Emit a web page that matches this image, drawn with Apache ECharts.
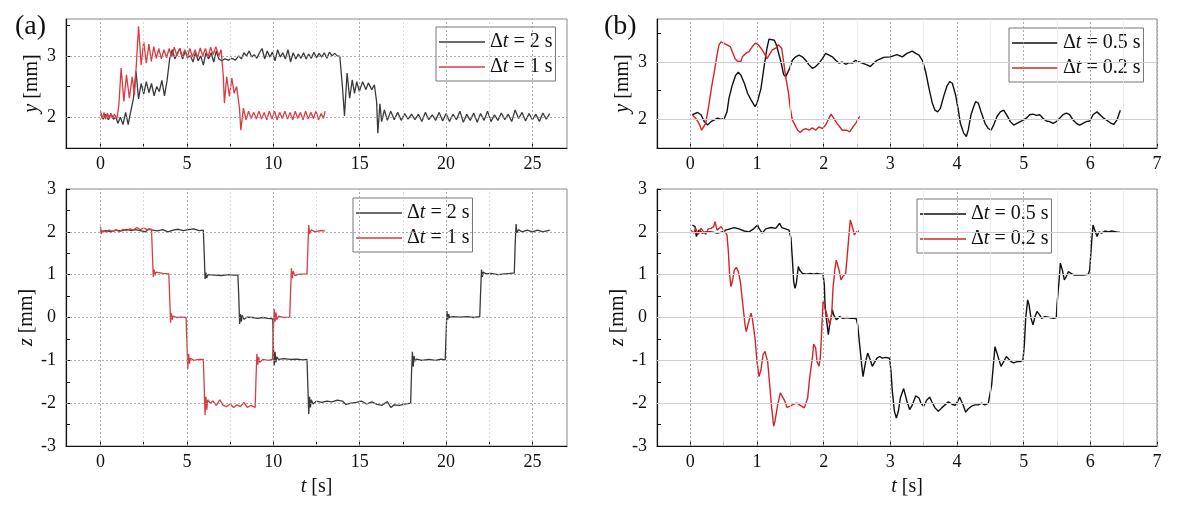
<!DOCTYPE html>
<html><head><meta charset="utf-8">
<script src="https://cdn.jsdelivr.net/npm/echarts@6/dist/echarts.min.js"></script>
<style>html,body{margin:0;padding:0;background:#fff}#c{width:1178px;height:513px}</style>
</head><body><div id="c"></div>
<script>
const FONT = 'Liberation Serif';

// legend names
const namesA = ['Δt = 2 s', 'Δt = 1 s'];
const namesB = ['Δt = 0.5 s', 'Δt = 0.2 s'];

// tick values
const aXMajor = [0, 5, 10, 15, 20, 25];
const aXMinor = [2.5, 7.5, 12.5, 17.5, 22.5];
const bXMajor = [0, 1, 2, 3, 4, 5, 6, 7];
const bXMinor = [0.5, 1.5, 2.5, 3.5, 4.5, 5.5, 6.5];
const yTopMajor = [2, 3];
const yTopMinor = [2.5, 3.5];
const zMajor = [-3, -2, -1, 0, 1, 2, 3];
const zMinor = [-2.5, -1.5, -0.5, 0.5, 1.5, 2.5];

// (a) top : y [mm], dt = 2 s
const yA2 = [[0,2.05],[0.15,1.97],[0.3,2.05],[0.45,1.96],[0.6,2.06],[0.75,1.97],[0.9,2.0],[1.0,1.9],[1.15,2.0],[1.3,1.88],[1.45,2.08],[1.6,1.88],[1.75,2.1],[1.9,2.3],[2.05,2.75],[2.2,2.3],[2.35,2.55],[2.5,2.38],[2.65,2.58],[2.8,2.4],[2.95,2.55],[3.1,2.35],[3.25,2.5],[3.4,2.42],[3.55,2.6],[3.7,2.35],[3.85,2.6],[4.0,2.95],[4.15,3.1],[4.3,2.95],[4.45,3.05],[4.6,3.12],[4.75,2.95],[4.9,3.08],[5.05,2.98],[5.2,3.0],[5.35,2.9],[5.5,3.05],[5.65,2.92],[5.8,3.0],[5.95,2.85],[6.1,3.05],[6.25,2.95],[6.4,3.05],[6.55,2.9],[6.7,3.08],[6.85,2.95],[7.0,2.92],[7.2,2.95],[7.4,2.93],[7.6,2.96],[7.8,2.93],[8.0,3.0],[8.15,2.95],[8.3,3.05],[8.45,3.0],[8.6,3.08],[8.75,2.98],[8.9,3.02],[9.05,2.96],[9.2,3.05],[9.35,3.12],[9.5,2.95],[9.65,3.08],[9.8,2.98],[9.95,3.06],[10.1,2.92],[10.25,3.1],[10.4,2.98],[10.55,3.05],[10.7,2.95],[10.85,3.1],[11.0,2.9],[11.15,3.05],[11.3,2.95],[11.45,3.03],[11.6,2.96],[11.75,3.05],[11.9,2.95],[12.05,3.03],[12.2,2.96],[12.35,3.06],[12.5,2.97],[12.65,3.04],[12.8,2.98],[12.95,3.05],[13.1,2.96],[13.25,3.06],[13.4,3.0],[13.55,3.04],[13.7,3.0],[13.85,2.99],[14.0,2.5],[14.12,2.02],[14.27,2.72],[14.42,2.31],[14.57,2.61],[14.7,2.39],[14.83,2.58],[14.98,2.42],[15.17,2.58],[15.36,2.45],[15.5,2.56],[15.7,2.45],[15.85,2.53],[15.98,2.25],[16.05,1.74],[16.17,2.22],[16.27,1.93],[16.43,2.12],[16.6,1.95],[16.8,2.1],[17.0,1.96],[17.2,2.08],[17.4,1.95],[17.6,2.06],[17.8,1.97],[18.0,2.05],[18.2,1.96],[18.4,2.05],[18.6,1.93],[18.8,2.08],[19.0,1.96],[19.2,2.04],[19.4,1.95],[19.6,2.08],[19.8,1.94],[20.0,2.06],[20.2,1.93],[20.4,2.05],[20.6,1.96],[20.8,2.1],[21.0,1.92],[21.2,2.05],[21.4,1.95],[21.6,2.07],[21.8,1.92],[22.0,2.06],[22.2,1.95],[22.4,2.1],[22.6,1.93],[22.8,2.04],[23.0,1.95],[23.2,2.07],[23.4,1.96],[23.6,2.05],[23.8,1.93],[24.0,2.12],[24.2,1.98],[24.4,2.08],[24.6,1.94],[24.8,2.06],[25.0,1.96],[25.2,2.05],[25.4,1.93],[25.6,2.07],[25.8,1.97],[26.0,2.06]];
// (a) top : y [mm], dt = 1 s
const yA1 = [[0,2.1],[0.1,1.98],[0.2,2.08],[0.3,1.97],[0.4,2.07],[0.5,1.97],[0.6,2.06],[0.7,1.98],[0.8,2.05],[0.95,1.98],[1.06,2.2],[1.19,2.8],[1.35,2.26],[1.5,2.69],[1.67,2.31],[1.83,2.66],[1.96,2.36],[2.08,2.9],[2.2,3.48],[2.35,2.85],[2.5,3.23],[2.65,2.88],[2.8,3.19],[2.94,2.91],[3.08,3.15],[3.23,2.96],[3.37,3.12],[3.52,2.95],[3.67,3.1],[3.82,2.97],[3.97,3.12],[4.12,2.98],[4.27,3.14],[4.42,3.0],[4.57,3.12],[4.72,2.98],[4.87,3.1],[5.02,2.97],[5.17,3.12],[5.32,2.98],[5.47,3.1],[5.62,2.97],[5.77,3.13],[5.92,3.0],[6.07,3.12],[6.22,2.98],[6.37,3.14],[6.52,3.02],[6.67,3.15],[6.85,3.0],[6.98,3.1],[7.1,2.69],[7.17,2.23],[7.3,2.66],[7.46,2.34],[7.6,2.64],[7.73,2.39],[7.88,2.5],[8.04,2.15],[8.12,1.79],[8.27,2.15],[8.42,1.96],[8.57,2.1],[8.72,1.98],[8.87,2.08],[9.02,1.97],[9.17,2.1],[9.32,1.97],[9.47,2.08],[9.62,1.96],[9.77,2.1],[9.92,1.97],[10.07,2.1],[10.22,1.96],[10.37,2.08],[10.52,1.98],[10.67,2.1],[10.82,1.97],[10.97,2.08],[11.12,1.96],[11.27,2.1],[11.42,1.98],[11.57,2.08],[11.72,1.96],[11.87,2.1],[12.02,1.97],[12.17,2.08],[12.32,1.98],[12.47,2.1],[12.62,1.96],[12.77,2.06],[12.9,1.98],[13.0,2.1]];

// (a) bottom : z [mm], dt = 2 s
const zA2 = [[0,2.05],[0.05,2.0],[0.3,2.03],[0.6,2.0],[0.9,2.04],[1.2,2.02],[1.5,2.06],[1.8,2.03],[2.0,2.05],[2.3,2.03],[2.6,2.0],[2.8,2.07],[3.0,2.04],[3.3,2.02],[3.6,2.05],[3.9,2.0],[4.2,2.04],[4.5,2.06],[4.8,2.03],[5.1,2.05],[5.4,2.07],[5.7,2.03],[5.95,2.04],[6.0,1.5],[6.05,0.9],[6.1,1.05],[6.15,0.92],[6.2,1.0],[6.3,0.96],[6.6,0.99],[7.0,0.98],[7.4,1.0],[7.7,0.99],[7.95,0.99],[8.0,0.5],[8.05,-0.15],[8.1,0.08],[8.15,-0.1],[8.2,0.05],[8.3,-0.04],[8.5,0.01],[8.8,0.0],[9.1,-0.02],[9.4,0.0],[9.7,-0.02],[9.97,-0.03],[10.0,-0.6],[10.05,-1.12],[10.1,-0.8],[10.15,-1.05],[10.2,-0.92],[10.3,-0.98],[10.6,-0.96],[11.0,-0.98],[11.4,-0.97],[11.7,-0.99],[11.95,-0.98],[12.0,-1.6],[12.05,-2.25],[12.1,-1.85],[12.15,-2.1],[12.2,-1.92],[12.3,-2.02],[12.5,-1.95],[12.8,-1.98],[13.1,-1.95],[13.4,-1.97],[13.7,-1.93],[14.0,-1.95],[14.2,-2.03],[14.5,-2.0],[14.8,-1.98],[15.1,-1.95],[15.4,-2.02],[15.7,-1.97],[16.0,-2.03],[16.3,-2.05],[16.6,-1.96],[16.8,-2.1],[17.0,-2.04],[17.3,-2.05],[17.6,-2.02],[17.95,-2.0],[18.0,-1.3],[18.05,-0.8],[18.1,-1.15],[18.15,-0.9],[18.2,-1.02],[18.3,-0.97],[18.6,-1.0],[19.0,-0.98],[19.4,-1.0],[19.7,-0.97],[19.95,-0.99],[20.0,-0.4],[20.05,0.15],[20.1,-0.05],[20.15,0.08],[20.2,0.0],[20.4,0.02],[20.8,0.01],[21.2,0.02],[21.6,0.0],[21.95,0.02],[22.0,0.6],[22.05,1.12],[22.1,0.95],[22.15,1.06],[22.3,1.02],[22.6,1.03],[23.0,1.0],[23.4,1.02],[23.7,1.03],[23.95,1.04],[24.0,1.7],[24.05,2.18],[24.1,1.98],[24.2,2.05],[24.4,2.0],[24.7,2.04],[25.0,2.0],[25.3,2.04],[25.6,2.0],[26.0,2.04]];
// (a) bottom : z [mm], dt = 1 s
const zA1 = [[0,2.12],[0.03,1.95],[0.1,2.02],[0.3,2.0],[0.5,2.04],[0.7,2.01],[0.9,2.05],[1.1,2.0],[1.3,2.06],[1.5,2.03],[1.7,2.07],[1.9,2.04],[2.1,2.1],[2.3,2.05],[2.5,2.09],[2.7,2.05],[2.95,2.06],[3.0,1.5],[3.05,0.95],[3.1,1.12],[3.15,0.98],[3.2,1.06],[3.3,1.02],[3.6,1.03],[3.95,1.02],[4.0,0.5],[4.05,-0.12],[4.1,0.1],[4.15,-0.05],[4.2,0.03],[4.4,0.0],[4.7,0.01],[4.95,0.0],[5.0,-0.6],[5.05,-1.2],[5.1,-0.85],[5.15,-1.08],[5.2,-0.95],[5.4,-1.0],[5.7,-0.98],[5.95,-0.98],[6.0,-1.6],[6.05,-2.28],[6.1,-1.85],[6.15,-2.15],[6.2,-1.92],[6.35,-2.0],[6.5,-1.95],[6.7,-2.05],[6.9,-1.92],[7.1,-2.05],[7.3,-2.08],[7.5,-2.02],[7.7,-2.1],[7.9,-2.04],[8.1,-2.08],[8.3,-1.98],[8.5,-2.1],[8.7,-2.05],[8.95,-2.1],[9.0,-1.4],[9.05,-0.85],[9.1,-1.1],[9.15,-0.92],[9.2,-1.05],[9.4,-0.98],[9.7,-1.0],[9.95,-0.98],[10.0,-0.4],[10.05,0.2],[10.1,-0.1],[10.15,0.12],[10.2,-0.05],[10.3,0.03],[10.6,0.0],[10.95,0.01],[11.0,0.6],[11.05,1.15],[11.1,0.92],[11.15,1.08],[11.25,0.98],[11.5,1.01],[11.95,1.02],[12.0,1.6],[12.05,2.16],[12.1,1.95],[12.2,2.05],[12.4,2.0],[12.7,2.03],[13.0,2.02]];

// (b) top : y [mm], dt = 0.5 s
const yB05 = [[0.03,2.08],[0.11,2.12],[0.16,2.08],[0.21,1.96],[0.26,1.9],[0.31,1.96],[0.36,1.99],[0.41,2.02],[0.46,2.0],[0.51,2.02],[0.55,2.13],[0.58,2.37],[0.63,2.6],[0.68,2.77],[0.72,2.82],[0.76,2.77],[0.81,2.63],[0.86,2.45],[0.91,2.34],[0.97,2.22],[1.0,2.28],[1.06,2.54],[1.11,2.95],[1.15,3.24],[1.18,3.4],[1.21,3.42],[1.26,3.38],[1.29,3.3],[1.36,3.0],[1.4,2.78],[1.43,2.74],[1.46,2.77],[1.49,2.89],[1.53,3.03],[1.58,3.09],[1.63,3.12],[1.68,3.09],[1.73,3.03],[1.78,2.95],[1.83,2.89],[1.88,2.92],[1.93,2.98],[1.98,3.06],[2.03,3.15],[2.08,3.12],[2.13,3.09],[2.18,3.03],[2.23,2.98],[2.28,3.0],[2.33,2.96],[2.38,2.99],[2.43,2.98],[2.48,3.03],[2.53,3.0],[2.58,2.98],[2.65,2.95],[2.7,2.92],[2.75,2.98],[2.8,3.03],[2.9,3.08],[3.0,3.09],[3.1,3.13],[3.18,3.09],[3.25,3.15],[3.33,3.19],[3.38,3.15],[3.43,3.12],[3.48,3.03],[3.53,2.83],[3.58,2.54],[3.63,2.28],[3.67,2.16],[3.71,2.13],[3.75,2.19],[3.8,2.4],[3.85,2.58],[3.89,2.66],[3.93,2.63],[3.98,2.42],[4.02,2.16],[4.05,1.93],[4.1,1.76],[4.14,1.7],[4.17,1.82],[4.21,2.08],[4.25,2.22],[4.28,2.31],[4.32,2.28],[4.37,2.1],[4.42,1.93],[4.47,1.84],[4.51,1.81],[4.55,1.9],[4.6,2.05],[4.65,2.13],[4.7,2.16],[4.75,2.07],[4.8,1.96],[4.85,1.9],[4.9,1.93],[4.95,1.96],[5.0,1.99],[5.04,2.02],[5.09,2.08],[5.14,2.09],[5.19,2.07],[5.24,2.08],[5.29,2.02],[5.34,1.97],[5.39,1.96],[5.44,1.93],[5.49,1.96],[5.54,2.02],[5.59,2.08],[5.64,2.11],[5.69,2.08],[5.74,1.99],[5.79,1.93],[5.84,1.9],[5.89,1.93],[5.94,1.96],[5.99,1.97],[6.04,2.08],[6.1,2.13],[6.2,2.02],[6.3,1.94],[6.35,1.91],[6.4,1.99],[6.45,2.16]];
// (b) top : y [mm], dt = 0.2 s
const yB02 = [[0.03,2.08],[0.08,2.02],[0.13,1.93],[0.17,1.81],[0.2,1.78],[0.23,1.93],[0.27,2.19],[0.32,2.57],[0.36,2.83],[0.4,3.12],[0.43,3.3],[0.46,3.35],[0.5,3.33],[0.55,3.3],[0.6,3.27],[0.63,3.18],[0.67,3.06],[0.71,3.01],[0.76,3.01],[0.78,3.09],[0.83,3.15],[0.88,3.18],[0.93,3.27],[0.98,3.33],[1.02,3.3],[1.06,3.24],[1.11,3.15],[1.15,3.06],[1.18,3.09],[1.23,3.21],[1.28,3.24],[1.32,3.3],[1.35,3.3],[1.37,3.24],[1.4,3.0],[1.43,2.74],[1.47,2.48],[1.5,2.19],[1.53,1.99],[1.57,1.9],[1.61,1.81],[1.65,1.77],[1.68,1.81],[1.73,1.84],[1.78,1.81],[1.83,1.85],[1.88,1.81],[1.93,1.87],[1.98,1.84],[2.03,1.9],[2.08,2.02],[2.11,2.09],[2.15,2.02],[2.2,1.93],[2.24,1.87],[2.28,1.81],[2.31,1.84],[2.35,1.81],[2.39,1.78],[2.42,1.77],[2.44,1.87],[2.48,1.93],[2.51,1.99],[2.54,2.05]];

// (b) bottom : z [mm], dt = 0.5 s
const zB05 = [[0.03,2.16],[0.07,2.12],[0.09,1.89],[0.13,2.04],[0.18,1.97],[0.23,2.0],[0.31,2.0],[0.41,1.97],[0.48,2.0],[0.53,2.04],[0.56,2.08],[0.66,2.1],[0.73,2.07],[0.81,2.02],[0.88,2.0],[0.95,2.07],[1.01,2.16],[1.03,2.08],[1.08,1.97],[1.13,2.07],[1.21,2.1],[1.28,2.08],[1.34,2.2],[1.37,2.1],[1.43,2.07],[1.48,2.04],[1.51,1.85],[1.53,1.38],[1.55,0.84],[1.57,0.68],[1.59,0.8],[1.62,1.19],[1.64,1.11],[1.68,1.03],[1.71,1.06],[1.75,1.01],[1.8,1.03],[1.85,1.01],[1.9,1.03],[1.95,1.01],[1.99,1.01],[2.01,0.76],[2.02,0.3],[2.04,-0.02],[2.07,-0.4],[2.09,-0.17],[2.13,0.18],[2.15,0.06],[2.19,-0.05],[2.24,0.02],[2.29,-0.02],[2.35,0.0],[2.4,-0.02],[2.45,-0.02],[2.49,-0.03],[2.51,-0.17],[2.54,-0.64],[2.57,-1.1],[2.59,-1.38],[2.6,-1.34],[2.63,-1.03],[2.66,-0.83],[2.69,-0.95],[2.73,-1.14],[2.76,-1.1],[2.8,-0.95],[2.84,-0.91],[2.88,-0.95],[2.93,-0.93],[2.99,-0.95],[3.01,-1.26],[3.03,-1.72],[3.06,-2.18],[3.09,-2.35],[3.12,-2.19],[3.15,-1.88],[3.2,-1.66],[3.25,-1.96],[3.29,-2.15],[3.33,-2.04],[3.38,-1.83],[3.43,-1.88],[3.46,-2.0],[3.5,-2.07],[3.55,-1.92],[3.59,-1.86],[3.62,-1.96],[3.67,-2.11],[3.72,-2.19],[3.77,-2.11],[3.82,-2.04],[3.87,-1.97],[3.92,-2.02],[3.97,-2.05],[4.01,-1.96],[4.04,-1.86],[4.07,-1.88],[4.1,-2.07],[4.13,-2.21],[4.17,-2.13],[4.22,-2.07],[4.27,-2.04],[4.32,-2.04],[4.37,-2.0],[4.42,-2.04],[4.47,-2.0],[4.5,-1.96],[4.52,-1.57],[4.55,-1.03],[4.57,-0.68],[4.6,-0.71],[4.63,-0.99],[4.66,-1.14],[4.7,-1.03],[4.74,-0.91],[4.77,-0.95],[4.81,-1.03],[4.85,-1.06],[4.9,-1.03],[4.95,-1.03],[4.99,-0.99],[5.01,-0.64],[5.03,-0.02],[5.06,0.41],[5.08,0.3],[5.11,-0.02],[5.14,-0.17],[5.17,0.02],[5.2,0.14],[5.24,0.06],[5.27,-0.02],[5.32,0.02],[5.39,0.0],[5.45,-0.02],[5.49,0.0],[5.5,0.3],[5.53,0.84],[5.55,1.27],[5.58,1.11],[5.61,0.88],[5.64,0.96],[5.67,1.07],[5.71,1.03],[5.76,0.99],[5.82,0.99],[5.89,0.99],[5.97,1.01],[5.99,1.11],[6.02,1.77],[6.04,2.16],[6.07,2.12],[6.1,1.89],[6.13,2.0],[6.17,1.97],[6.22,2.02],[6.27,2.0],[6.32,2.02],[6.39,2.0],[6.44,1.99]];
// (b) bottom : z [mm], dt = 0.2 s
const zB02 = [[0.01,2.04],[0.05,1.97],[0.08,2.08],[0.12,1.94],[0.16,2.08],[0.2,2.0],[0.23,1.94],[0.27,2.07],[0.31,2.08],[0.35,2.12],[0.37,2.24],[0.4,2.04],[0.42,2.0],[0.46,2.12],[0.48,2.08],[0.52,2.0],[0.55,1.93],[0.57,1.54],[0.59,0.99],[0.61,0.72],[0.63,0.84],[0.66,1.11],[0.69,1.17],[0.72,1.07],[0.75,0.84],[0.78,0.41],[0.82,-0.17],[0.84,-0.33],[0.87,-0.13],[0.91,0.1],[0.93,-0.02],[0.97,-0.48],[1.0,-1.03],[1.03,-1.38],[1.06,-1.22],[1.09,-0.87],[1.12,-0.79],[1.16,-1.03],[1.19,-1.57],[1.22,-2.11],[1.25,-2.54],[1.27,-2.42],[1.31,-2.04],[1.35,-1.76],[1.38,-1.76],[1.42,-1.96],[1.45,-2.1],[1.5,-2.07],[1.55,-2.02],[1.6,-2.0],[1.65,-2.05],[1.71,-2.11],[1.74,-2.07],[1.76,-1.88],[1.79,-1.41],[1.83,-0.95],[1.85,-0.62],[1.88,-0.71],[1.9,-1.03],[1.93,-1.14],[1.95,-0.95],[1.97,-0.33],[1.99,0.37],[2.02,0.33],[2.05,0.06],[2.09,-0.17],[2.12,0.06],[2.14,0.68],[2.17,1.15],[2.19,1.34],[2.23,1.11],[2.26,0.88],[2.29,0.96],[2.33,1.03],[2.35,1.38],[2.38,1.93],[2.4,2.28],[2.43,2.12],[2.46,1.93],[2.49,2.0],[2.53,2.02]];

const chart = echarts.init(document.getElementById('c'), null, {renderer: 'canvas'});

const RICH = {
  n: {fontFamily: FONT, fontSize: 20, color: '#111'},
  i: {fontFamily: FONT, fontSize: 20, color: '#111', fontStyle: 'italic'}
};
const sorted = a => a.slice().sort((p, q) => p - q);

function xAxisCfg(idx, min, max, major, minor, withName) {
  return {
    type: 'value', gridIndex: idx, min: min, max: max,
    axisLine: {onZero: false, lineStyle: {color: '#111', width: 1.2}},
    axisTick: {inside: true, length: 4, lineStyle: {color: '#111'}, customValues: sorted(major.concat(minor))},
    axisLabel: {customValues: major, margin: 7, fontFamily: FONT, fontSize: 18, color: '#111'},
    splitLine: {show: false},
    name: withName ? '{i|t}{n| [s]}' : '',
    nameLocation: 'middle', nameGap: 31,
    nameTextStyle: {fontFamily: FONT, fontSize: 20, rich: RICH}
  };
}
function yAxisCfg(idx, min, max, major, minor, varName, gap) {
  return {
    type: 'value', gridIndex: idx, min: min, max: max,
    axisLine: {onZero: false, lineStyle: {color: '#111', width: 1.2}},
    axisTick: {inside: true, length: 4, lineStyle: {color: '#111'}, customValues: sorted(major.concat(minor))},
    axisLabel: {customValues: major, margin: 10, fontFamily: FONT, fontSize: 18, color: '#111'},
    splitLine: {show: false},
    name: '{i|' + varName + '}{n| [mm]}',
    nameLocation: 'middle', nameGap: gap,
    nameTextStyle: {fontFamily: FONT, fontSize: 20, rich: RICH}
  };
}

const dashMajor = {color: '#9a9a9a', width: 0.8, type: [2, 2]};
const dashMinor = {color: '#d4d4d4', width: 0.8, type: [2, 2]};
const solidH = {color: '#cfcfcf', width: 1, type: 'solid'};
const solidMinor = {color: '#e8e8e8', width: 0.8, type: 'solid'};

function gridSeries(idx, vMajor, vMinor, hVals, vStyle, vMinStyle, hStyle) {
  const data = []
    .concat(vMinor.map(v => ({xAxis: v, lineStyle: vMinStyle})))
    .concat(vMajor.map(v => ({xAxis: v, lineStyle: vStyle})))
    .concat(hVals.map(v => ({yAxis: v, lineStyle: hStyle})));
  return {
    type: 'line', name: 'grid' + idx, xAxisIndex: idx, yAxisIndex: idx, data: [], z: 1, silent: true,
    markLine: {silent: true, symbol: ['none', 'none'], label: {show: false}, animation: false, data: data}
  };
}
function lineSeries(idx, name, data, color, width) {
  return {
    type: 'line', name: name, xAxisIndex: idx, yAxisIndex: idx, data: data, z: 3,
    symbol: 'none', showSymbol: false, animation: false,
    lineStyle: {color: color, width: width}, itemStyle: {color: color}
  };
}
function legendCfg(names, left, top) {
  return {
    data: names, orient: 'vertical', left: left, top: top,
    icon: 'rect', itemWidth: 46, itemHeight: 1.6, itemGap: 5, padding: [5, 3, 4, 3],
    backgroundColor: '#fff', borderColor: '#777', borderWidth: 1,
    selectedMode: false,
    textStyle: {fontFamily: FONT, fontSize: 20, color: '#111', rich: RICH},
    formatter: nm => '{n|Δ}{i|t}{n|' + nm.slice(2) + '}'
  };
}

const RED_A = '#dc3b40', BLK_A = '#3a3a3a', RED_B = '#d4242a', BLK_B = '#111111';

const option = {
  backgroundColor: '#fff',
  animation: false,
  textStyle: {fontFamily: FONT},
  title: [
    {text: '(a)', left: 15, top: 13, padding: 0, textStyle: {fontFamily: FONT, fontSize: 28, fontWeight: 'normal', color: '#111'}},
    {text: '(b)', left: 604, top: 13, padding: 0, textStyle: {fontFamily: FONT, fontSize: 28, fontWeight: 'normal', color: '#111'}}
  ],
  grid: [
    {left: 66, top: 19, width: 501, height: 129, show: true, borderColor: '#8a8a8a', borderWidth: 1, backgroundColor: 'transparent'},
    {left: 66, top: 189, width: 501, height: 257, show: true, borderColor: '#8a8a8a', borderWidth: 1, backgroundColor: 'transparent'},
    {left: 657, top: 19, width: 500, height: 129, show: true, borderColor: '#8a8a8a', borderWidth: 1, backgroundColor: 'transparent'},
    {left: 657, top: 189, width: 500, height: 257, show: true, borderColor: '#8a8a8a', borderWidth: 1, backgroundColor: 'transparent'}
  ],
  xAxis: [
    xAxisCfg(0, -2, 27, aXMajor, aXMinor, false),
    xAxisCfg(1, -2, 27, aXMajor, aXMinor, true),
    xAxisCfg(2, -0.5, 7, bXMajor, bXMinor, false),
    xAxisCfg(3, -0.5, 7, bXMajor, bXMinor, true)
  ],
  yAxis: [
    yAxisCfg(0, 1.5, 3.6, yTopMajor, yTopMinor, 'y', 24),
    yAxisCfg(1, -3, 3, zMajor, zMinor, 'z', 28),
    yAxisCfg(2, 1.5, 3.75, yTopMajor, yTopMinor, 'y', 24),
    yAxisCfg(3, -3, 3, zMajor, zMinor, 'z', 28)
  ],
  legend: [
    legendCfg(namesA, 436, 27),
    legendCfg(namesA, 353, 198),
    legendCfg(namesB, 1009, 28),
    legendCfg(namesB, 917, 199)
  ],
  series: [
    gridSeries(0, aXMajor, aXMinor, yTopMajor, dashMajor, dashMinor, dashMajor),
    gridSeries(1, aXMajor, aXMinor, [-2, -1, 0, 1, 2], dashMajor, dashMinor, dashMajor),
    gridSeries(2, bXMajor, bXMinor, yTopMajor, dashMajor, solidMinor, solidH),
    gridSeries(3, bXMajor, bXMinor, [-2, -1, 0, 1, 2], dashMajor, solidMinor, solidH),
    lineSeries(0, namesA[0], yA2, BLK_A, 1.3),
    lineSeries(0, namesA[1], yA1, RED_A, 1.3),
    lineSeries(1, namesA[0], zA2, BLK_A, 1.3),
    lineSeries(1, namesA[1], zA1, RED_A, 1.3),
    lineSeries(2, namesB[0], yB05, BLK_B, 1.4),
    lineSeries(2, namesB[1], yB02, RED_B, 1.4),
    lineSeries(3, namesB[0], zB05, BLK_B, 1.4),
    lineSeries(3, namesB[1], zB02, RED_B, 1.4)
  ]
};
chart.setOption(option);
</script>
</body></html>
